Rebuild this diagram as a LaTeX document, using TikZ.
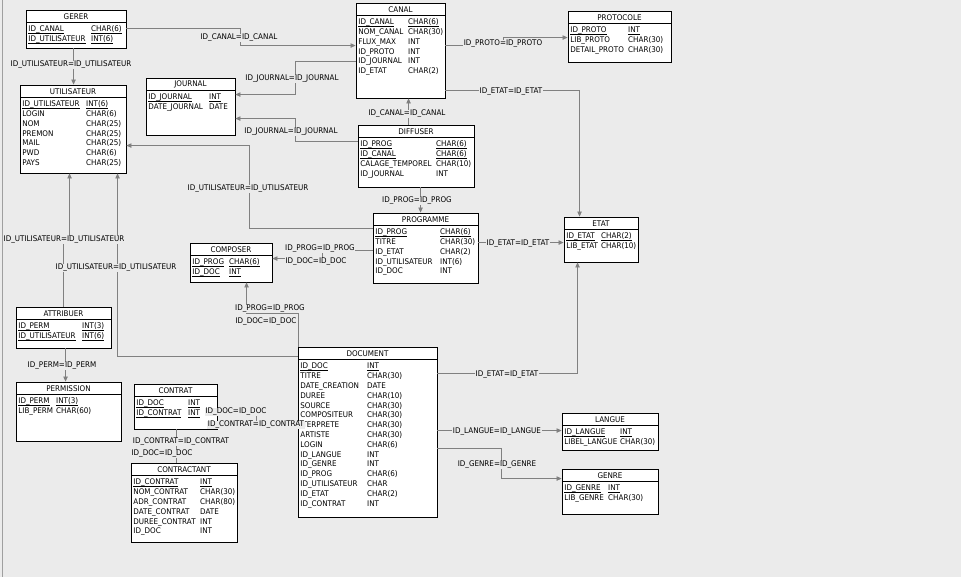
\documentclass[tikz,border=0pt]{standalone}
\usepackage{fontspec}
\setmainfont{DejaVu Sans}[FakeStretch=0.92]
\usetikzlibrary{arrows.meta,fit}
\definecolor{bgc}{HTML}{EBEBEB}
\definecolor{lnc}{HTML}{808080}
\newcommand\fnt{\fontsize{7.8}{9}\selectfont}
\newcommand\keyul[1]{\setbox0=\hbox{#1}\rlap{\rule[-1.9pt]{\wd0}{0.55pt}}\box0}
\tikzset{
 tblbox/.style={draw=black, line width=0.9pt, fill=white, inner sep=0pt},
 ttl/.style={font=\fnt, inner sep=0pt},
 sepl/.style={draw=black, line width=0.8pt},
 fld/.style={font=\fnt, inner sep=0pt, anchor=base west},
 conn/.style={draw=lnc, line width=0.8pt, -{Triangle[length=5pt,width=4.5pt]}},
 plainconn/.style={draw=lnc, line width=0.8pt},
 lbl/.style={font=\fnt, fill=bgc, inner sep=0.6pt, yshift=-1pt},
}
\newcommand\erbox[7]{%
  \coordinate (#1-nw) at (#2,#3);
  \coordinate (#1-se) at (#4,#5);
  \node[tblbox, fit=(#1-nw)(#1-se)] (#1) {};
  \node[ttl] (#1-title) at ({(#2+#4)/2},{#3+6.5}) {#6};
  \draw[sepl] (#2,{#3+12}) -- (#4,{#3+12});
  \gdef\curN{#1}\gdef\curL{#2}\gdef\curT{#3}\gdef\curX{#7}%
}
\newcommand\rw[3]{%
  \node[fld] (\curN-#1n) at ({\curL+2.2},{\curT+21.8+9.8*(#1-1)}) {#2};
  \node[fld] (\curN-#1t) at ({\curX},{\curT+21.8+9.8*(#1-1)}) {#3};%
}
\newcommand\kr[3]{\rw{#1}{\keyul{#2}}{\keyul{#3}}}
\begin{document}
\begin{tikzpicture}[x=1pt,y=-1pt]
\path[fill=bgc] (0,0) rectangle (961,577);
\useasboundingbox (0,0) rectangle (961,577);
\draw[draw=gray!75, line width=0.8pt] (2,0) -- (2,577);

% tables
\erbox{gerer}{26}{10}{126}{48}{GERER}{91}
\kr{1}{ID\_CANAL}{CHAR(6)}
\kr{2}{ID\_UTILISATEUR}{INT(6)}

\erbox{utilisateur}{20}{85}{126}{173}{UTILISATEUR}{86}
\kr{1}{ID\_UTILISATEUR}{INT(6)}
\rw{2}{LOGIN}{CHAR(6)}
\rw{3}{NOM}{CHAR(25)}
\rw{4}{PREMON}{CHAR(25)}
\rw{5}{MAIL}{CHAR(25)}
\rw{6}{PWD}{CHAR(6)}
\rw{7}{PAYS}{CHAR(25)}

\erbox{journal}{146}{78}{235}{135}{JOURNAL}{209}
\kr{1}{ID\_JOURNAL}{INT}
\rw{2}{DATE\_JOURNAL}{DATE}

\erbox{canal}{356}{3}{445}{98}{CANAL}{408}
\kr{1}{ID\_CANAL}{CHAR(6)}
\rw{2}{NOM\_CANAL}{CHAR(30)}
\rw{3}{FLUX\_MAX}{INT}
\rw{4}{ID\_PROTO}{INT}
\rw{5}{ID\_JOURNAL}{INT}
\rw{6}{ID\_ETAT}{CHAR(2)}

\erbox{protocole}{568}{11}{671}{62}{PROTOCOLE}{628}
\kr{1}{ID\_PROTO}{INT}
\rw{2}{LIB\_PROTO}{CHAR(30)}
\rw{3}{DETAIL\_PROTO}{CHAR(30)}

\erbox{diffuser}{358}{125}{474}{187}{DIFFUSER}{436}
\kr{1}{ID\_PROG}{CHAR(6)}
\kr{2}{ID\_CANAL}{CHAR(6)}
\rw{3}{CALAGE\_TEMPOREL}{CHAR(10)}
\rw{4}{ID\_JOURNAL}{INT}

\erbox{programme}{373}{213}{478}{283}{PROGRAMME}{440}
\kr{1}{ID\_PROG}{CHAR(6)}
\rw{2}{TITRE}{CHAR(30)}
\rw{3}{ID\_ETAT}{CHAR(2)}
\rw{4}{ID\_UTILISATEUR}{INT(6)}
\rw{5}{ID\_DOC}{INT}

\erbox{composer}{190}{243}{272}{282}{COMPOSER}{229}
\kr{1}{ID\_PROG}{CHAR(6)}
\kr{2}{ID\_DOC}{INT}

\erbox{etat}{564}{217}{638}{262}{ETAT}{601}
\kr{1}{ID\_ETAT}{CHAR(2)}
\rw{2}{LIB\_ETAT}{CHAR(10)}

\erbox{attribuer}{16}{307}{111}{348}{ATTRIBUER}{82}
\kr{1}{ID\_PERM}{INT(3)}
\kr{2}{ID\_UTILISATEUR}{INT(6)}

\erbox{permission}{16}{382}{121}{441}{PERMISSION}{56}
\kr{1}{ID\_PERM}{INT(3)}
\rw{2}{LIB\_PERM}{CHAR(60)}

\erbox{contrat}{134}{384}{217}{429}{CONTRAT}{188}
\kr{1}{ID\_DOC}{INT}
\kr{2}{ID\_CONTRAT}{INT}

\erbox{contractant}{131}{463}{237}{542}{CONTRACTANT}{200}
\kr{1}{ID\_CONTRAT}{INT}
\rw{2}{NOM\_CONTRAT}{CHAR(30)}
\rw{3}{ADR\_CONTRAT}{CHAR(80)}
\rw{4}{DATE\_CONTRAT}{DATE}
\rw{5}{DUREE\_CONTRAT}{INT}
\rw{6}{ID\_DOC}{INT}

\erbox{document}{298}{347}{437}{517}{DOCUMENT}{367}
\kr{1}{ID\_DOC}{INT}
\rw{2}{TITRE}{CHAR(30)}
\rw{3}{DATE\_CREATION}{DATE}
\rw{4}{DUREE}{CHAR(10)}
\rw{5}{SOURCE}{CHAR(30)}
\rw{6}{COMPOSITEUR}{CHAR(30)}
\rw{7}{ITERPRETE}{CHAR(30)}
\rw{8}{ARTISTE}{CHAR(30)}
\rw{9}{LOGIN}{CHAR(6)}
\rw{10}{ID\_LANGUE}{INT}
\rw{11}{ID\_GENRE}{INT}
\rw{12}{ID\_PROG}{CHAR(6)}
\rw{13}{ID\_UTILISATEUR}{CHAR}
\rw{14}{ID\_ETAT}{CHAR(2)}
\rw{15}{ID\_CONTRAT}{INT}

\erbox{langue}{562}{413}{658}{450}{LANGUE}{620}
\kr{1}{ID\_LANGUE}{INT}
\rw{2}{LIBEL\_LANGUE}{CHAR(30)}

\erbox{genre}{562}{469}{658}{514}{GENRE}{608}
\kr{1}{ID\_GENRE}{INT}
\rw{2}{LIB\_GENRE}{CHAR(30)}

% connectors
\draw[conn] ([yshift=-19pt]gerer.north east) -- ++(114,0) |- ([yshift=-43pt]canal.north west);
\draw[conn] ([xshift=48pt]gerer.south west) -- ([xshift=54pt]utilisateur.north west);
\draw[conn] ([yshift=-59pt]canal.north west) -- ++(-60,0) |- ([yshift=-17pt]journal.north east);
\draw[conn] ([yshift=-43pt]canal.north east) -- ++(58,0) |- ([yshift=-27pt]protocole.north west);
\draw[conn] ([yshift=-88pt]canal.north east) -| ([xshift=16pt]etat.north west);
\draw[conn] ([xshift=51pt]diffuser.north west) -- ([xshift=53pt]canal.south west);
\draw[conn] ([yshift=-17pt]diffuser.north west) -- ++(-62,0) |- ([yshift=-41pt]journal.north east);
\draw[conn] ([yshift=-16pt]programme.north west) -- ++(-123,0) |- ([yshift=-61pt]utilisateur.north east);
\draw[conn] ([xshift=63pt]diffuser.south west) -- ([xshift=48pt]programme.north west);
\draw[conn] ([yshift=-30pt]programme.north east) -- ([yshift=-26pt]etat.north west);
\draw[conn] ([yshift=-38pt]programme.north west) -- ++(-50,0) |- ([yshift=-16pt]composer.north east);
\draw[conn] ([xshift=1pt]document.north west) -- ++(0,-33) -| ([xshift=57pt]composer.south west);
\draw[conn] ([yshift=-10pt]document.north west) -| ([xshift=98pt]utilisateur.south west);
\draw[conn] ([xshift=48pt]attribuer.north west) -- ++(0,-68) -| ([xshift=50pt]utilisateur.south west);
\draw[conn] ([xshift=50pt]attribuer.south west) -- ([xshift=50pt]permission.north west);
\draw[conn] ([yshift=-27pt]document.north east) -| ([xshift=14pt]etat.south west);
\draw[conn] ([yshift=-84pt]document.north east) -- ([yshift=-18pt]langue.north west);
\draw[conn] ([yshift=-102pt]document.north east) -- ++(64,0) |- ([yshift=-10pt]genre.north west);
\draw[plainconn] ([yshift=-77pt]document.north west) -- ++(-41,0) |- ([yshift=-26pt]contrat.north east);
\draw[plainconn] ([xshift=46pt]contractant.north west) -- ([xshift=43pt]contrat.south west);

% labels
\node[lbl] (l1) at (239,37) {ID\_CANAL=ID\_CANAL};
\node[lbl] (l2) at (71,64) {ID\_UTILISATEUR=ID\_UTILISATEUR};
\node[lbl] (l3) at (292,78) {ID\_JOURNAL=ID\_JOURNAL};
\node[lbl] (l4) at (503,43) {ID\_PROTO=ID\_PROTO};
\node[lbl] (l5) at (511,91) {ID\_ETAT=ID\_ETAT};
\node[lbl] (l6) at (407,113) {ID\_CANAL=ID\_CANAL};
\node[lbl] (l7) at (291,131) {ID\_JOURNAL=ID\_JOURNAL};
\node[lbl] (l8) at (248,188) {ID\_UTILISATEUR=ID\_UTILISATEUR};
\node[lbl] (l9) at (417,200) {ID\_PROG=ID\_PROG};
\node[lbl] (l10) at (518,243) {ID\_ETAT=ID\_ETAT};
\node[lbl] (l11a) at (320,248) {ID\_PROG=ID\_PROG};
\node[lbl] (l11b) at (316,261) {ID\_DOC=ID\_DOC};
\node[lbl] (l12a) at (270,308) {ID\_PROG=ID\_PROG};
\node[lbl] (l12b) at (266,321) {ID\_DOC=ID\_DOC};
\node[lbl] (l13) at (116,267) {ID\_UTILISATEUR=ID\_UTILISATEUR};
\node[lbl] (l14) at (64,239) {ID\_UTILISATEUR=ID\_UTILISATEUR};
\node[lbl] (l15) at (62,365) {ID\_PERM=ID\_PERM};
\node[lbl] (l16) at (507,374) {ID\_ETAT=ID\_ETAT};
\node[lbl] (l17) at (497,431) {ID\_LANGUE=ID\_LANGUE};
\node[lbl] (l18) at (497,464) {ID\_GENRE=ID\_GENRE};
\node[lbl] (l19a) at (236,411) {ID\_DOC=ID\_DOC};
\node[lbl] (l19b) at (256,424) {ID\_CONTRAT=ID\_CONTRAT};
\node[lbl] (l20a) at (181,441) {ID\_CONTRAT=ID\_CONTRAT};
\node[lbl] (l20b) at (162,453) {ID\_DOC=ID\_DOC};
\end{tikzpicture}
\end{document}
